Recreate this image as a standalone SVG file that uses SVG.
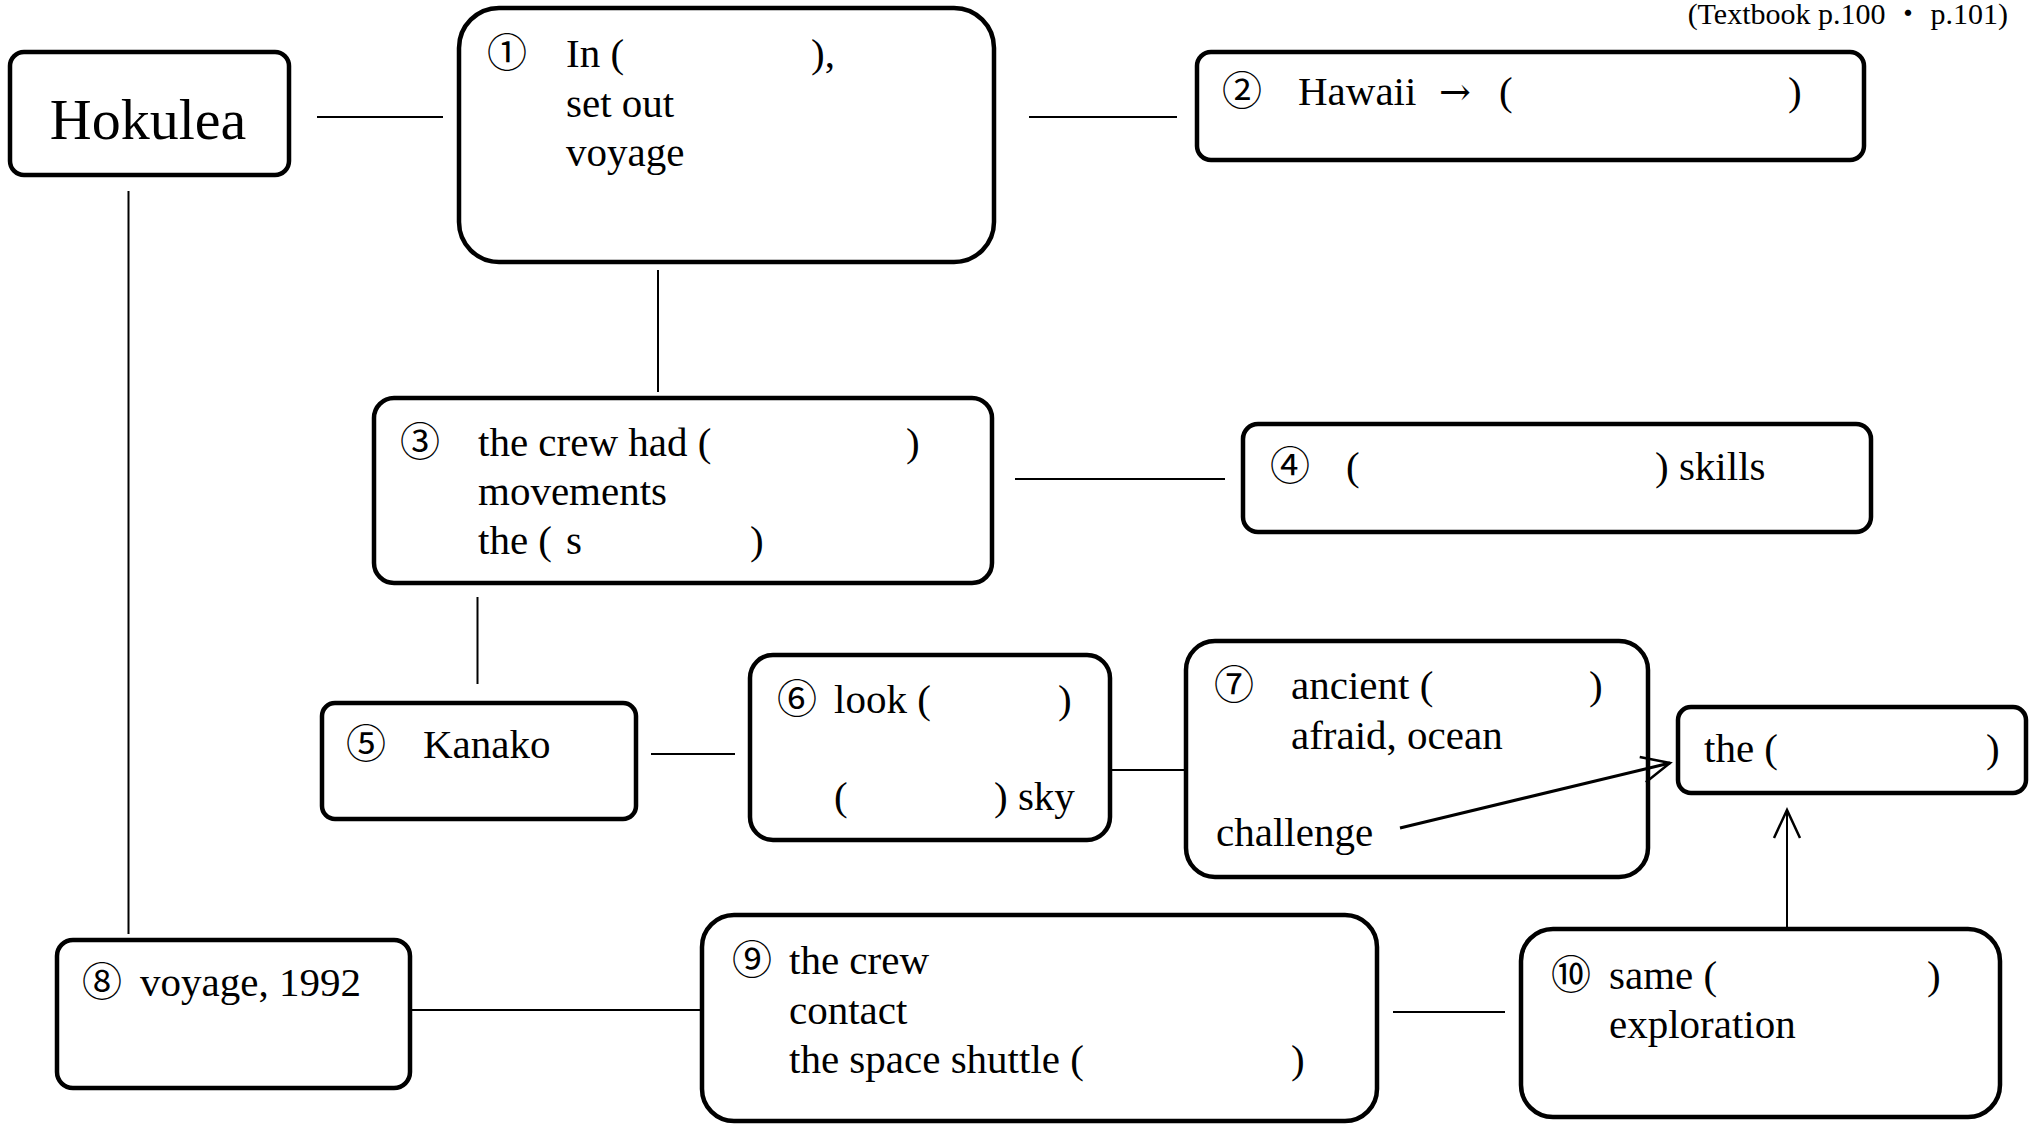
<svg xmlns="http://www.w3.org/2000/svg" width="2035" height="1124" viewBox="0 0 2035 1124">
<defs>
<style>
.box{fill:#fff;stroke:#000;stroke-width:4.5}
.t{font-family:"Liberation Serif","Noto Sans CJK JP",serif;font-size:41px;fill:#000}
.n{font-family:"Noto Sans CJK JP","DejaVu Sans",sans-serif;font-size:40px;font-weight:400;fill:#000}
.big{font-family:"Liberation Serif",serif;font-size:58px;fill:#000}
.ln{stroke:#000;stroke-width:2;fill:none}
.ar{stroke:#000;stroke-width:3;fill:none}
.hdr{font-family:"Liberation Serif","Noto Sans CJK JP",serif;font-size:30px;fill:#000}
.arr{font-family:"DejaVu Serif",serif;font-size:38px}
</style>
<marker id="open" markerWidth="34" markerHeight="34" refX="31" refY="17" orient="auto" markerUnits="userSpaceOnUse">
<path d="M3,4 L31,17 L3,30" fill="none" stroke="#000" stroke-width="2.5"/>
</marker>
</defs>
<rect width="2035" height="1124" fill="#fff"/>
<text class="hdr" x="2008" y="24" text-anchor="end">(Textbook p.100 ・ p.101)</text>

<g id="hokulea">
<rect class="box" x="10" y="52" width="279" height="123" rx="14"/>
<text class="big" x="148" y="139" text-anchor="middle">Hokulea</text>
</g>

<g id="node1">
<rect class="box" x="459" y="8" width="535" height="254" rx="40"/>
<text class="n" x="487" y="67">①</text>
<text class="t" x="566" y="67">In (<tspan x="811">),</tspan></text>
<text class="t" x="566" y="117">set out</text>
<text class="t" x="566" y="166">voyage</text>
</g>

<g id="node2">
<rect class="box" x="1197" y="52" width="667" height="108" rx="14"/>
<text class="n" x="1222" y="105">②</text>
<text class="t" x="1298" y="105">Hawaii <tspan class="arr" x="1439">→</tspan><tspan x="1499">(</tspan><tspan x="1788">)</tspan></text>
</g>

<g id="node3">
<rect class="box" x="374" y="398" width="618" height="185" rx="20"/>
<text class="n" x="400" y="456">③</text>
<text class="t" x="478" y="456">the crew had (<tspan x="906">)</tspan></text>
<text class="t" x="478" y="505">movements</text>
<text class="t" x="478" y="554">the (<tspan x="566">s</tspan><tspan x="750">)</tspan></text>
</g>

<g id="node4">
<rect class="box" x="1243" y="424" width="628" height="108" rx="15"/>
<text class="n" x="1270" y="480">④</text>
<text class="t" x="1346" y="480">(<tspan x="1655">) skills</tspan></text>
</g>

<g id="node5">
<rect class="box" x="322" y="703" width="314" height="116" rx="13"/>
<text class="n" x="346" y="758">⑤</text>
<text class="t" x="423" y="758">Kanako</text>
</g>

<g id="node6">
<rect class="box" x="750" y="655" width="360" height="185" rx="23"/>
<text class="n" x="777" y="713">⑥</text>
<text class="t" x="834" y="713">look (<tspan x="1058">)</tspan></text>
<text class="t" x="834" y="810">(<tspan x="994">) sky</tspan></text>
</g>

<g id="node7">
<rect class="box" x="1186" y="641" width="462" height="236" rx="29"/>
<text class="n" x="1214" y="699">⑦</text>
<text class="t" x="1291" y="699">ancient (<tspan x="1589">)</tspan></text>
<text class="t" x="1291" y="749">afraid, ocean</text>
<text class="t" x="1216" y="846">challenge</text>
</g>

<g id="nodeThe">
<rect class="box" x="1678" y="707" width="348" height="86" rx="13"/>
<text class="t" x="1704" y="762">the (<tspan x="1986">)</tspan></text>
</g>

<g id="node8">
<rect class="box" x="57" y="940" width="353" height="148" rx="16"/>
<text class="n" x="82" y="996">⑧</text>
<text class="t" x="140" y="996">voyage, 1992</text>
</g>

<g id="node9">
<rect class="box" x="702" y="915" width="675" height="206" rx="32"/>
<text class="n" x="732" y="974">⑨</text>
<text class="t" x="789" y="974">the crew</text>
<text class="t" x="789" y="1024">contact</text>
<text class="t" x="789" y="1073">the space shuttle (<tspan x="1291">)</tspan></text>
</g>

<g id="node10">
<rect class="box" x="1521" y="929" width="479" height="188" rx="32"/>
<text class="n" x="1551" y="989">⑩</text>
<text class="t" x="1609" y="989">same (<tspan x="1927">)</tspan></text>
<text class="t" x="1609" y="1038">exploration</text>
</g>

<g id="connectors">
<line class="ln" x1="317" y1="117" x2="443" y2="117"/>
<line class="ln" x1="1029" y1="117" x2="1177" y2="117"/>
<line class="ln" x1="658" y1="270" x2="658" y2="392"/>
<line class="ln" x1="128.5" y1="191" x2="128.5" y2="934"/>
<line class="ln" x1="1015" y1="479" x2="1225" y2="479"/>
<line class="ln" x1="477.5" y1="597" x2="477.5" y2="684"/>
<line class="ln" x1="651" y1="754" x2="735" y2="754"/>
<line class="ln" x1="1108" y1="770" x2="1188" y2="770"/>
<line class="ln" x1="410" y1="1010" x2="702" y2="1010"/>
<line class="ln" x1="1393" y1="1012" x2="1505" y2="1012"/>
<line class="ar" x1="1400" y1="828" x2="1670" y2="763" marker-end="url(#open)"/>
<line class="ln" x1="1787" y1="929" x2="1787" y2="810" marker-end="url(#open)"/>
</g>
</svg>
